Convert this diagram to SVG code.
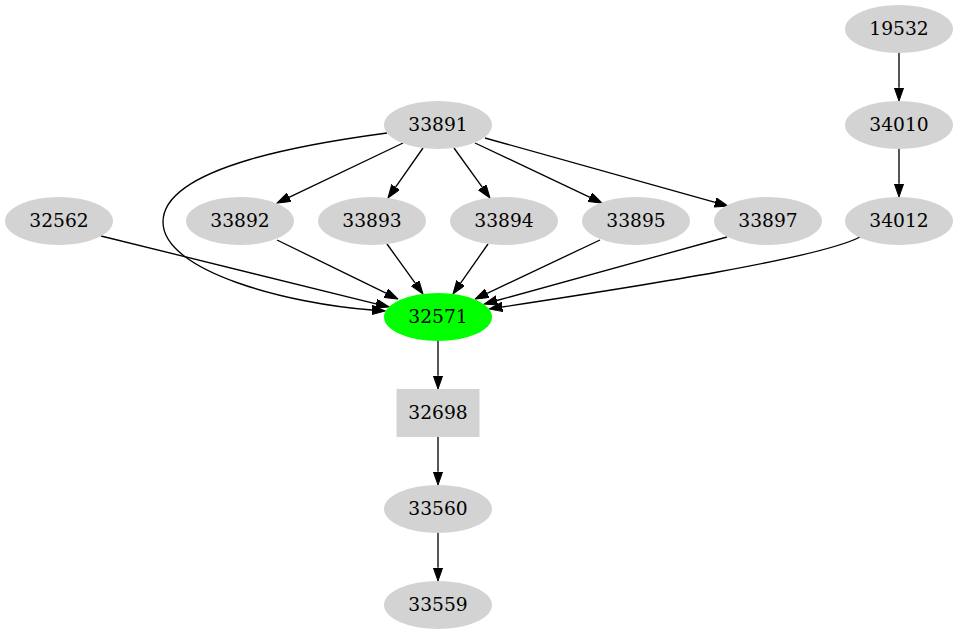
<svg xmlns="http://www.w3.org/2000/svg" width="959" height="635" viewBox="0 0 959 635">
<style>
.n ellipse, .n rect { fill: #d3d3d3; stroke: none; }
.n.hl ellipse { fill: #00ff00; }
.n text { font-family: "DejaVu Serif", "Liberation Serif", serif; font-size: 18.67px; text-anchor: middle; fill: #000; }
#edges path { fill: none; stroke: #000; stroke-width: 1.33; marker-end: url(#arr); }
</style>
<defs>
<marker id="arr" markerUnits="userSpaceOnUse" markerWidth="14" markerHeight="10" refX="0" refY="4.67" orient="auto">
<path d="M0,0 L13.33,4.67 L0,9.33 Z" fill="#000" stroke="#000" stroke-width="1"/>
</marker>
</defs>
<rect width="959" height="635" fill="#fff"/>
<g id="edges">
<path d="M899,53 L899,87.7"/>
<path d="M899,149 L899,183.7"/>
<path d="M403,143 L289,197.3"/>
<path d="M423,148 L395.6,187.1"/>
<path d="M454,148 L482.2,187.2"/>
<path d="M475,143 L590,197.3"/>
<path d="M485,138 L715.2,202.4"/>
<path d="M387,133 C320,142 163,165 163,222 C163,272 290,304 372,310"/>
<path d="M101,236 L376.1,303.8"/>
<path d="M277,240 L386,293.2"/>
<path d="M387,244 L415.2,283.2"/>
<path d="M488,244 L460.6,283.1"/>
<path d="M600,240 L487.1,293.3"/>
<path d="M727,237 L496.9,300.5"/>
<path d="M860,237 C820,258 640,286 502.2,307"/>
<path d="M438,341 L438,375.7"/>
<path d="M438,437 L438,471.7"/>
<path d="M438,533 L438,567.7"/>
</g>
<g id="n19532" class="n"><ellipse cx="899" cy="29" rx="54" ry="24"/><text x="899" y="34.6">19532</text></g>
<g id="n34010" class="n"><ellipse cx="899" cy="125" rx="54" ry="24"/><text x="899" y="130.6">34010</text></g>
<g id="n34012" class="n"><ellipse cx="899" cy="221" rx="54" ry="24"/><text x="899" y="226.6">34012</text></g>
<g id="n33891" class="n"><ellipse cx="438" cy="125" rx="54" ry="24"/><text x="438" y="130.6">33891</text></g>
<g id="n32562" class="n"><ellipse cx="59" cy="221" rx="54" ry="24"/><text x="59" y="226.6">32562</text></g>
<g id="n33892" class="n"><ellipse cx="240" cy="221" rx="54" ry="24"/><text x="240" y="226.6">33892</text></g>
<g id="n33893" class="n"><ellipse cx="372" cy="221" rx="54" ry="24"/><text x="372" y="226.6">33893</text></g>
<g id="n33894" class="n"><ellipse cx="504" cy="221" rx="54" ry="24"/><text x="504" y="226.6">33894</text></g>
<g id="n33895" class="n"><ellipse cx="636" cy="221" rx="54" ry="24"/><text x="636" y="226.6">33895</text></g>
<g id="n33897" class="n"><ellipse cx="768" cy="221" rx="54" ry="24"/><text x="768" y="226.6">33897</text></g>
<g id="n32571" class="n hl"><ellipse cx="438" cy="317" rx="54" ry="24"/><text x="438" y="322.6">32571</text></g>
<g id="n32698" class="n"><rect x="396.5" y="389" width="83" height="48"/><text x="438" y="418.6">32698</text></g>
<g id="n33560" class="n"><ellipse cx="438" cy="509" rx="54" ry="24"/><text x="438" y="514.6">33560</text></g>
<g id="n33559" class="n"><ellipse cx="438" cy="605" rx="54" ry="24"/><text x="438" y="610.6">33559</text></g>
</svg>
